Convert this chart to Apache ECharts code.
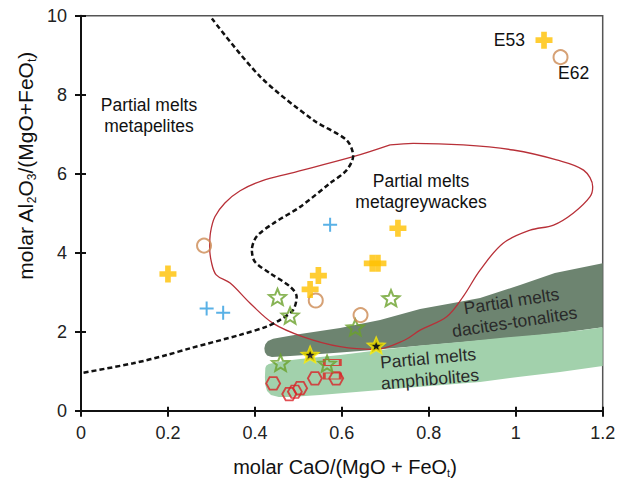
<!DOCTYPE html>
<html><head><meta charset="utf-8">
<script src="https://cdn.jsdelivr.net/npm/echarts@6/dist/echarts.min.js"></script>
<style>html,body{margin:0;padding:0;background:#fff}#c{width:626px;height:483px}</style>
</head><body><div id="c"></div>
<script>
// ---- data ----
const yellowCross = [[0.200,3.46],[0.527,3.07],[0.546,3.42],[0.670,3.73],[0.683,3.73],[0.729,4.62],[1.065,9.38]];
const blueCross = [[0.289,2.59],[0.327,2.48],[0.573,4.71]];
const brownCircle = [[0.283,4.18],[0.540,2.79],[0.643,2.42],[1.103,8.95]];
const greenStar = [[0.452,2.88],[0.481,2.41],[0.631,2.11],[0.713,2.85],[0.459,1.21],[0.566,1.19]];
const blackStar = [[0.527,1.42],[0.679,1.65]];
const redHex = [[0.442,0.69],[0.479,0.42],[0.492,0.48],[0.504,0.57],[0.538,0.82],[0.587,0.82]];
const redRect = [[0.578,1.22],[0.578,0.88]];
const pointLabels = ['E53','E62'];

const dashedBoundary = [[0.301,9.93],[0.412,8.46],[0.534,7.36],[0.611,6.85],[0.626,6.45],[0.611,6.09],[0.573,5.76],[0.504,5.16],[0.442,4.74],[0.404,4.41],[0.393,4.07],[0.400,3.77],[0.435,3.48],[0.481,3.14],[0.496,2.89],[0.488,2.55],[0.458,2.30],[0.427,2.13],[0.366,1.92],[0.251,1.58],[0.197,1.41],[0.120,1.20],[0,0.95]];

const greywackeLoop = [[0.711,6.73],[0.626,6.43],[0.481,6.01],[0.416,5.82],[0.366,5.57],[0.331,5.26],[0.308,4.91],[0.298,4.52],[0.296,4.14],[0.300,3.76],[0.311,3.44],[0.343,3.23],[0.389,2.72],[0.442,2.21],[0.511,1.87],[0.596,1.62],[0.676,1.55],[0.745,1.79],[0.780,2.04],[0.841,2.38],[0.879,2.89],[0.918,3.56],[0.971,4.24],[1.033,4.57],[1.087,4.70],[1.132,5.00],[1.171,5.42],[1.177,5.67],[1.156,6.09],[1.094,6.35],[0.994,6.60],[0.879,6.73],[0.764,6.77],[0.711,6.73]];

const daciteBand = [[0.4217,1.58],[0.424,1.68],[0.430,1.765],[0.442,1.82],[0.458,1.853],[0.504,1.942],[0.596,2.094],[0.688,2.296],[0.780,2.575],[0.872,2.759],[0.918,2.853],[1.010,3.182],[1.090,3.486],[1.200,3.732],[1.200,2.111],[1.102,1.967],[1.010,1.866],[0.918,1.777],[0.826,1.689],[0.734,1.600],[0.642,1.511],[0.550,1.435],[0.481,1.385],[0.439,1.359],[0.428,1.40],[0.423,1.48]];

const amphiboliteBand = [[0.424,1.081],[0.426,1.14],[0.432,1.18],[0.445,1.215],[0.458,1.246],[0.504,1.309],[0.596,1.410],[0.688,1.537],[0.780,1.651],[0.872,1.739],[0.964,1.841],[1.056,1.929],[1.148,2.030],[1.200,2.111],[1.200,1.132],[1.102,0.980],[1.010,0.861],[0.918,0.727],[0.780,0.608],[0.688,0.524],[0.550,0.397],[0.481,0.347],[0.455,0.350],[0.437,0.40],[0.428,0.50],[0.424,0.65],[0.423,0.85]];

// ---- symbols ----
const crossThick = 'path://M2,0h2v2h2v2h-2v2h-2v-2h-2v-2h2z';
const crossThin = 'path://M3,0h1v3h3v1h-3v3h-1v-3h-3v-1h3z';
const star = 'path://M50,0L62.93,32.2L97.55,34.55L70.92,56.8L79.39,90.45L50,72L20.61,90.45L29.08,56.8L2.45,34.55L37.07,32.2Z';
const hex = 'path://M25,0L75,0L100,43.3L75,86.6L25,86.6L0,43.3Z';

const FONT = '"Liberation Sans", Arial, sans-serif';
const chart = echarts.init(document.getElementById('c'), null, {renderer: 'svg'});

function bandSeries(points, fill, z) {
  return {
    type: 'custom', data: points, z: z, silent: true,
    encode: {x: 0, y: 1},
    renderItem: function (params, api) {
      if (params.dataIndex !== 0) return null;
      return {type: 'polygon', shape: {points: points.map(p => api.coord(p))}, style: {fill: fill}};
    }
  };
}

const axisCommon = {type: 'value', splitLine: {show: false}};
chart.setOption({
  animation: false,
  backgroundColor: '#fff',
  grid: {left: 81, right: 23.3, top: 15.7, bottom: 72.3, show: true, borderColor: '#555', borderWidth: 1.5, containLabel: false},
  xAxis: [
    Object.assign({}, axisCommon, {min: 0, max: 1.2, interval: 0.2, position: 'bottom',
      axisLine: {lineStyle: {color: '#111', width: 2}},
      axisTick: {show: true, length: 6, lineStyle: {color: '#111', width: 2}},
      axisLabel: {fontSize: 18, color: '#222', fontFamily: FONT, margin: 13}}),
    Object.assign({}, axisCommon, {min: 0, max: 1.2, interval: 0.2, position: 'bottom',
      axisLine: {show: false},
      axisTick: {show: true, inside: true, length: 4, lineStyle: {color: '#111', width: 2}},
      axisLabel: {show: false}})
  ],
  yAxis: [
    Object.assign({}, axisCommon, {min: 0, max: 10, interval: 2, position: 'left',
      axisLine: {lineStyle: {color: '#111', width: 2}},
      axisTick: {show: true, length: 6, lineStyle: {color: '#111', width: 2}},
      axisLabel: {fontSize: 18, color: '#222', fontFamily: FONT, margin: 14}}),
    Object.assign({}, axisCommon, {min: 0, max: 10, interval: 2, position: 'left',
      axisLine: {show: false},
      axisTick: {show: true, inside: true, length: 5, lineStyle: {color: '#111', width: 2}},
      axisLabel: {show: false}})
  ],
  series: [
    bandSeries(daciteBand, '#6d8470', 1),
    bandSeries(amphiboliteBand, '#a2d1ac', 1),
    {type: 'line', data: greywackeLoop, smooth: 0.35, symbol: 'none', z: 3, silent: true,
      lineStyle: {color: '#b83038', width: 1.3}},
    {type: 'line', data: dashedBoundary, smooth: 0.3, symbol: 'none', z: 4, silent: true,
      lineStyle: {color: '#111', width: 2.5, type: [5, 3]}},
    {type: 'scatter', data: redRect, symbol: 'rect', symbolSize: [16, 6], z: 5,
      itemStyle: {color: 'rgba(0,0,0,0)', borderColor: '#e02020', borderWidth: 1.8}},
    {type: 'scatter', data: redHex, symbol: hex, symbolSize: [14, 12.5], z: 5,
      itemStyle: {color: 'rgba(0,0,0,0)', borderColor: '#d92328', borderWidth: 1.8}},
    {type: 'scatter', data: greenStar, symbol: star, symbolSize: [17, 16], z: 6,
      itemStyle: {color: 'rgba(0,0,0,0)', borderColor: '#6aa12a', borderWidth: 2}},
    {type: 'scatter', data: blackStar, symbol: star, symbolSize: [15, 14], z: 6,
      itemStyle: {color: '#000', borderColor: '#ffee00', borderWidth: 2.5}},
    {type: 'scatter', data: brownCircle, symbol: 'circle', symbolSize: 14, z: 6,
      itemStyle: {color: 'rgba(0,0,0,0)', borderColor: '#cc8a52', borderWidth: 2}},
    {type: 'scatter', data: blueCross, symbol: crossThin, symbolSize: 14, z: 6,
      itemStyle: {color: '#2f9ee0'}},
    {type: 'scatter', data: yellowCross, symbol: crossThick, symbolSize: 17, z: 7,
      itemStyle: {color: '#ffc000'}}
  ],
  graphic: {
    elements: [
      {type: 'text', z: 100, x: 149, y: 115, style: {text: 'Partial melts\nmetapelites', font: '17.5px ' + FONT, fill: '#111', align: 'center', verticalAlign: 'middle', lineHeight: 21}},
      {type: 'text', z: 100, x: 421, y: 191, style: {text: 'Partial melts\nmetagreywackes', font: '17.5px ' + FONT, fill: '#111', align: 'center', verticalAlign: 'middle', lineHeight: 21}},
      {type: 'text', z: 100, x: 513, y: 311.5, rotation: 0.152, style: {text: 'Partial melts\ndacites-tonalites', font: '17.5px ' + FONT, fill: '#2a2a2a', align: 'center', verticalAlign: 'middle', lineHeight: 21}},
      {type: 'text', z: 100, x: 429, y: 368.7, rotation: 0.09, style: {text: 'Partial melts\namphibolites', font: '17.5px ' + FONT, fill: '#2a2a2a', align: 'center', verticalAlign: 'middle', lineHeight: 21}},
      {type: 'text', z: 100, x: 525, y: 40, style: {text: pointLabels[0], font: '17.5px ' + FONT, fill: '#111', align: 'right', verticalAlign: 'middle'}},
      {type: 'text', z: 100, x: 558, y: 73, style: {text: pointLabels[1], font: '17.5px ' + FONT, fill: '#111', align: 'left', verticalAlign: 'middle'}},
      {type: 'text', z: 100, x: 345, y: 467, style: {
        text: 'molar CaO/(MgO + FeO{s|t})', font: '20px ' + FONT, fill: '#111', align: 'center', verticalAlign: 'middle',
        rich: {s: {fontSize: 11, fontFamily: FONT, fill: '#111', verticalAlign: 'bottom', padding: [12, 0, 0, 0]}}}},
      {type: 'text', z: 100, x: 25, y: 166, rotation: Math.PI / 2, style: {
        text: 'molar Al{s|2}O{s|3}/(MgO+FeO{s|t})', font: '21px ' + FONT, fill: '#111', align: 'center', verticalAlign: 'middle',
        rich: {s: {fontSize: 12, fontFamily: FONT, fill: '#111', verticalAlign: 'bottom', padding: [14, 0, 0, 0]}}}}
    ]
  }
});
</script></body></html>
